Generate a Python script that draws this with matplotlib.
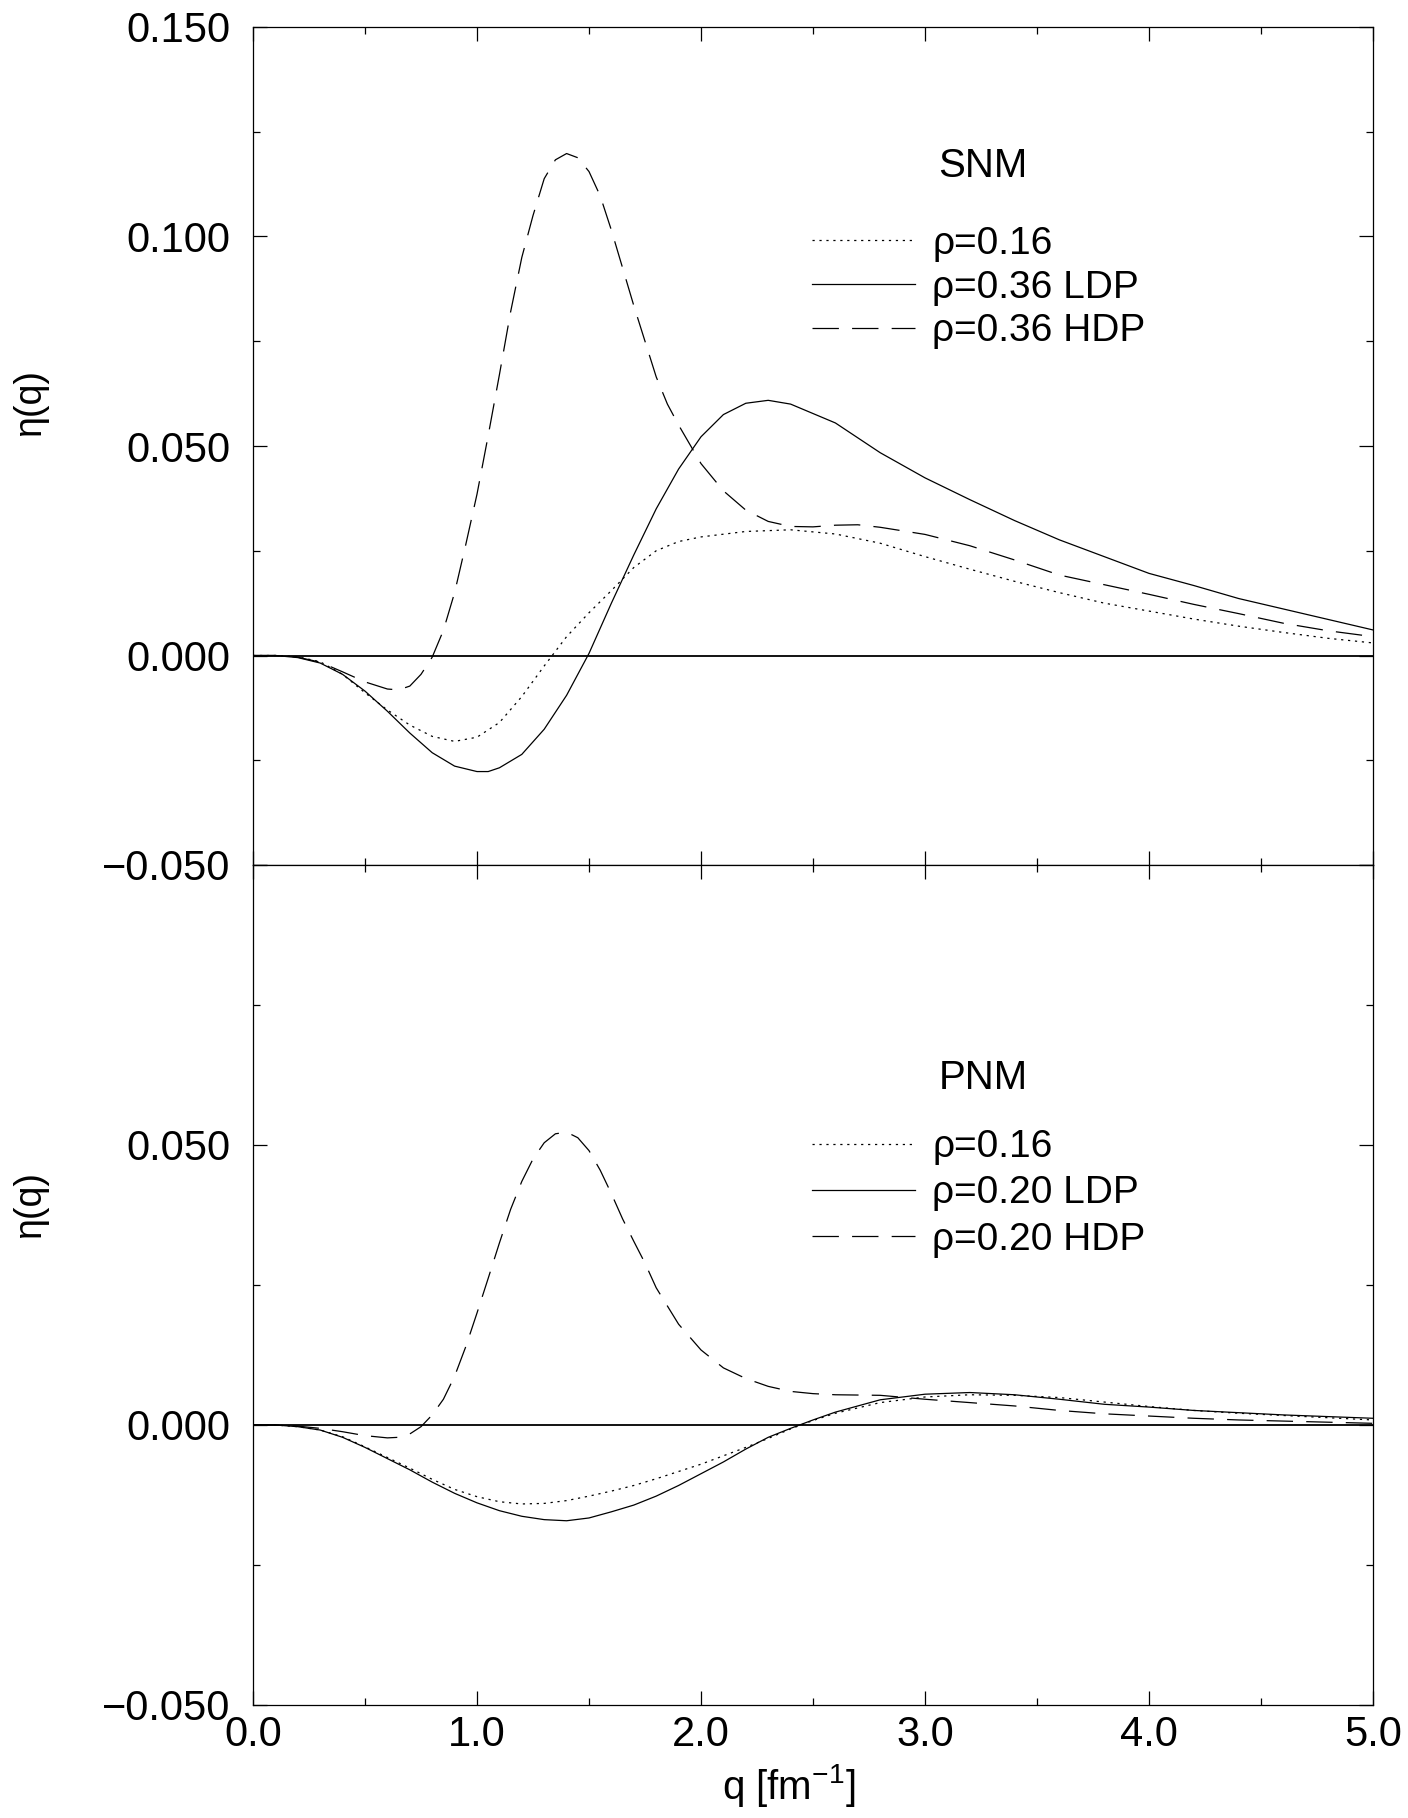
import matplotlib
matplotlib.use("Agg")
import matplotlib.pyplot as plt

plt.rcParams['font.family'] = ['Liberation Sans', 'DejaVu Sans']
plt.rcParams['lines.scale_dashes'] = False
plt.rcParams['axes.unicode_minus'] = True
plt.rcParams['mathtext.fontset'] = 'custom'
plt.rcParams['mathtext.rm'] = 'Liberation Sans'
plt.rcParams['mathtext.it'] = 'Liberation Sans'

# ---------------- data: SNM (top panel) ----------------
q_snm_016 = [0.0, 0.1, 0.2, 0.3, 0.4, 0.5, 0.6, 0.7, 0.8, 0.9, 1.0, 1.1, 1.2, 1.3, 1.4,
             1.5, 1.6, 1.7, 1.8, 1.9, 2.0, 2.2, 2.4, 2.6, 2.8, 3.0, 3.2, 3.4, 3.6, 3.8,
             4.0, 4.2, 4.4, 4.6, 4.8, 5.0]
eta_snm_016 = [0.0, 0.0, -0.0003, -0.0015, -0.0045, -0.0089, -0.0130, -0.0166, -0.0193,
               -0.0205, -0.0195, -0.0160, -0.0098, -0.0025, 0.0045, 0.0102, 0.0155,
               0.0210, 0.0250, 0.0272, 0.0283, 0.0296, 0.0300, 0.0290, 0.0268, 0.0236,
               0.0206, 0.0177, 0.0150, 0.0125, 0.0106, 0.0087, 0.0070, 0.0055, 0.0041,
               0.0030]

q_snm_ldp = [0.0, 0.1, 0.2, 0.3, 0.4, 0.5, 0.6, 0.7, 0.8, 0.9, 1.0, 1.05, 1.1, 1.2, 1.3,
             1.4, 1.5, 1.6, 1.7, 1.8, 1.9, 2.0, 2.1, 2.2, 2.3, 2.4, 2.6, 2.8, 3.0, 3.2,
             3.4, 3.6, 3.8, 4.0, 4.2, 4.4, 4.6, 4.8, 5.0]
eta_snm_ldp = [0.0, 0.0, -0.0005, -0.0018, -0.0045, -0.0085, -0.0133, -0.0185, -0.0232,
               -0.0264, -0.0277, -0.0277, -0.0268, -0.0236, -0.0176, -0.0095, 0.0005,
               0.0125, 0.0240, 0.0350, 0.0445, 0.0522, 0.0575, 0.0602, 0.0609, 0.0600,
               0.0555, 0.0484, 0.0424, 0.0372, 0.0322, 0.0276, 0.0236, 0.0196, 0.0167,
               0.0136, 0.0111, 0.0086, 0.0061]

q_snm_hdp = [0.0, 0.1, 0.2, 0.3, 0.4, 0.5, 0.6, 0.65, 0.7, 0.75, 0.8, 0.85, 0.9, 0.95,
             1.0, 1.05, 1.1, 1.15, 1.2, 1.25, 1.3, 1.35, 1.4, 1.45, 1.5, 1.55, 1.6, 1.65,
             1.7, 1.75, 1.8, 1.85, 1.9, 2.0, 2.1, 2.2, 2.3, 2.4, 2.5, 2.6, 2.7, 2.8,
             3.0, 3.2, 3.4, 3.6, 3.8, 4.0, 4.2, 4.4, 4.6, 4.8, 5.0]
eta_snm_hdp = [0.0, 0.0, -0.0004, -0.0016, -0.0039, -0.0063, -0.0080, -0.0082, -0.0073,
               -0.0045, -0.0004, 0.0060, 0.0150, 0.0265, 0.0385, 0.0525, 0.0670, 0.0820,
               0.0950, 0.1050, 0.1138, 0.1183, 0.1198, 0.1188, 0.1155, 0.1097, 0.1015,
               0.0925, 0.0835, 0.0750, 0.0665, 0.0600, 0.0550, 0.0458, 0.0393, 0.0347,
               0.0320, 0.0308, 0.0307, 0.0311, 0.0312, 0.0306, 0.0289, 0.0262, 0.0228,
               0.0192, 0.0169, 0.0146, 0.0122, 0.0100, 0.0077, 0.0059, 0.0045]

# ---------------- data: PNM (bottom panel) ----------------
q_pnm_016 = [0.0, 0.1, 0.2, 0.3, 0.4, 0.5, 0.6, 0.7, 0.8, 0.9, 1.0, 1.1, 1.2, 1.3, 1.4,
             1.5, 1.6, 1.7, 1.8, 1.9, 2.0, 2.1, 2.2, 2.3, 2.4, 2.5, 2.6, 2.8, 3.0, 3.2,
             3.4, 3.6, 3.8, 4.0, 4.2, 4.4, 4.6, 4.8, 5.0]
eta_pnm_016 = [0.0, 0.0, -0.0003, -0.0009, -0.0021, -0.0039, -0.0058, -0.0077, -0.0097,
               -0.0115, -0.0128, -0.0137, -0.0141, -0.0140, -0.0135, -0.0127, -0.0118,
               -0.0108, -0.0096, -0.0083, -0.0070, -0.0055, -0.0040, -0.0024, -0.0007,
               0.0008, 0.0021, 0.0040, 0.0050, 0.0054, 0.0053, 0.0049, 0.0041, 0.0033,
               0.0026, 0.0021, 0.0017, 0.0013, 0.0009]

q_pnm_ldp = [0.0, 0.1, 0.2, 0.3, 0.4, 0.5, 0.6, 0.7, 0.8, 0.9, 1.0, 1.1, 1.2, 1.3, 1.4,
             1.5, 1.6, 1.7, 1.8, 1.9, 2.0, 2.1, 2.2, 2.3, 2.4, 2.5, 2.6, 2.8, 3.0, 3.2,
             3.4, 3.6, 3.8, 4.0, 4.2, 4.4, 4.6, 4.8, 5.0]
eta_pnm_ldp = [0.0, 0.0, -0.0003, -0.0009, -0.0022, -0.0040, -0.0060, -0.0080, -0.0102,
               -0.0122, -0.0139, -0.0153, -0.0163, -0.0169, -0.0171, -0.0166, -0.0155,
               -0.0143, -0.0127, -0.0108, -0.0087, -0.0066, -0.0043, -0.0022, -0.0006,
               0.0009, 0.0023, 0.0045, 0.0055, 0.0058, 0.0054, 0.0046, 0.0037, 0.0032,
               0.0026, 0.0022, 0.0018, 0.0015, 0.0012]

q_pnm_hdp = [0.0, 0.1, 0.2, 0.3, 0.4, 0.5, 0.6, 0.65, 0.7, 0.75, 0.8, 0.85, 0.9, 0.95,
             1.0, 1.05, 1.1, 1.15, 1.2, 1.25, 1.3, 1.35, 1.4, 1.45, 1.5, 1.55, 1.6, 1.65,
             1.7, 1.75, 1.8, 1.9, 2.0, 2.1, 2.2, 2.3, 2.4, 2.5, 2.6, 2.8, 3.0, 3.2, 3.4,
             3.6, 3.8, 4.0, 4.2, 4.4, 4.6, 4.8, 5.0]
eta_pnm_hdp = [0.0, 0.0, -0.0002, -0.0006, -0.0012, -0.0019, -0.0023, -0.0022, -0.0016,
               -0.0003, 0.0018, 0.0046, 0.0087, 0.0140, 0.0200, 0.0262, 0.0325, 0.0385,
               0.0435, 0.0475, 0.0504, 0.0520, 0.0523, 0.0513, 0.0490, 0.0455, 0.0413,
               0.0368, 0.0328, 0.0289, 0.0245, 0.0180, 0.0134, 0.0102, 0.0083, 0.0069,
               0.0060, 0.0056, 0.0054, 0.0053, 0.0046, 0.0040, 0.0034, 0.0026, 0.0020,
               0.0016, 0.0012, 0.0009, 0.0007, 0.0005, 0.0003]

labels_snm = ["\u03c1=0.16", "\u03c1=0.36 LDP", "\u03c1=0.36 HDP"]
labels_pnm = ["\u03c1=0.16", "\u03c1=0.20 LDP", "\u03c1=0.20 HDP"]
xticks = [0.0, 1.0, 2.0, 3.0, 4.0, 5.0]
xticklabels = ["0.0", "1.0", "2.0", "3.0", "4.0", "5.0"]
yticks_top = [-0.05, 0.0, 0.05, 0.10, 0.15]
yticklabels_top = ["\u22120.050", "0.000", "0.050", "0.100", "0.150"]
yticks_bot = [-0.05, 0.0, 0.05, 0.10]
yticklabels_bot = ["\u22120.050", "0.000", "0.050", ""]

# ---------------- styling ----------------
FS_TICK = 30
FS_LEG = 28
FS_TITLE = 29
FS_LABEL = 29
LW = 0.9
DOT = (0, (1.6, 3.4))
DASH = (0, (19.0, 9.5))

W, H = 1408, 1818
fig = plt.figure(figsize=(W / 100, H / 100), dpi=100)
left = 253 / W
width = (1373 - 253) / W
ax1 = fig.add_axes([left, 1 - 865 / H, width, (865 - 27) / H])
ax2 = fig.add_axes([left, 1 - 1705 / H, width, (1705 - 865) / H])


def style(ax, yticks, yticklabels, ylim, show_x):
    ax.set_xlim(0, 5)
    ax.set_ylim(*ylim)
    ax.set_xticks(xticks)
    ax.set_xticks([0.5, 1.5, 2.5, 3.5, 4.5], minor=True)
    ax.set_yticks(yticks)
    ax.set_yticklabels(yticklabels)
    minor_y = [v + 0.025 for v in yticks[:-1]]
    ax.set_yticks(minor_y, minor=True)
    if show_x:
        ax.set_xticklabels(xticklabels)
    else:
        ax.set_xticklabels([])
    ax.tick_params(which='both', direction='in', top=True, right=True,
                   width=0.9, labelsize=FS_TICK, colors='black')
    ax.tick_params(which='major', length=10)
    ax.tick_params(which='minor', length=5)
    ax.tick_params(axis='y', which='major', pad=16)
    ax.tick_params(axis='x', which='major', pad=7)
    for s in ax.spines.values():
        s.set_linewidth(0.9)
    ax.axhline(0.0, color='black', lw=1.3, zorder=1)
    ax.set_ylabel("\u03b7(q)", fontsize=27)


style(ax1, yticks_top, yticklabels_top, (-0.05, 0.15), False)
style(ax2, yticks_bot, yticklabels_bot, (-0.05, 0.10), True)
ax1.yaxis.set_label_coords(-0.183, 0.552)
ax2.yaxis.set_label_coords(-0.183, 0.596)

ax1.plot(q_snm_016, eta_snm_016, color='black', lw=LW, linestyle=DOT, label=labels_snm[0])
ax1.plot(q_snm_ldp, eta_snm_ldp, color='black', lw=LW, linestyle='-', label=labels_snm[1])
ax1.plot(q_snm_hdp, eta_snm_hdp, color='black', lw=LW, linestyle=DASH, label=labels_snm[2])

ax2.plot(q_pnm_016, eta_pnm_016, color='black', lw=LW, linestyle=DOT, label=labels_pnm[0])
ax2.plot(q_pnm_ldp, eta_pnm_ldp, color='black', lw=LW, linestyle='-', label=labels_pnm[1])
ax2.plot(q_pnm_hdp, eta_pnm_hdp, color='black', lw=LW, linestyle=DASH, label=labels_pnm[2])

for ax, title, ty, ly, sp in [(ax1, "SNM", 0.834, 0.689, 0.2),
                              (ax2, "PNM", 0.746, 0.609, 0.26)]:
    ax.text(0.652, ty, title, transform=ax.transAxes, fontsize=FS_TITLE,
            ha='center', va='center')
    ax.legend(loc='center left', bbox_to_anchor=(0.499, ly), frameon=False,
              fontsize=FS_LEG, handlelength=2.65, handletextpad=0.45,
              labelspacing=sp, borderpad=0, borderaxespad=0)

ax2.set_xlabel("q [fm$^{\u22121}$]", fontsize=FS_LABEL)
ax2.xaxis.set_label_coords(0.478, -0.068)

fig.savefig("out.png", dpi=100)
